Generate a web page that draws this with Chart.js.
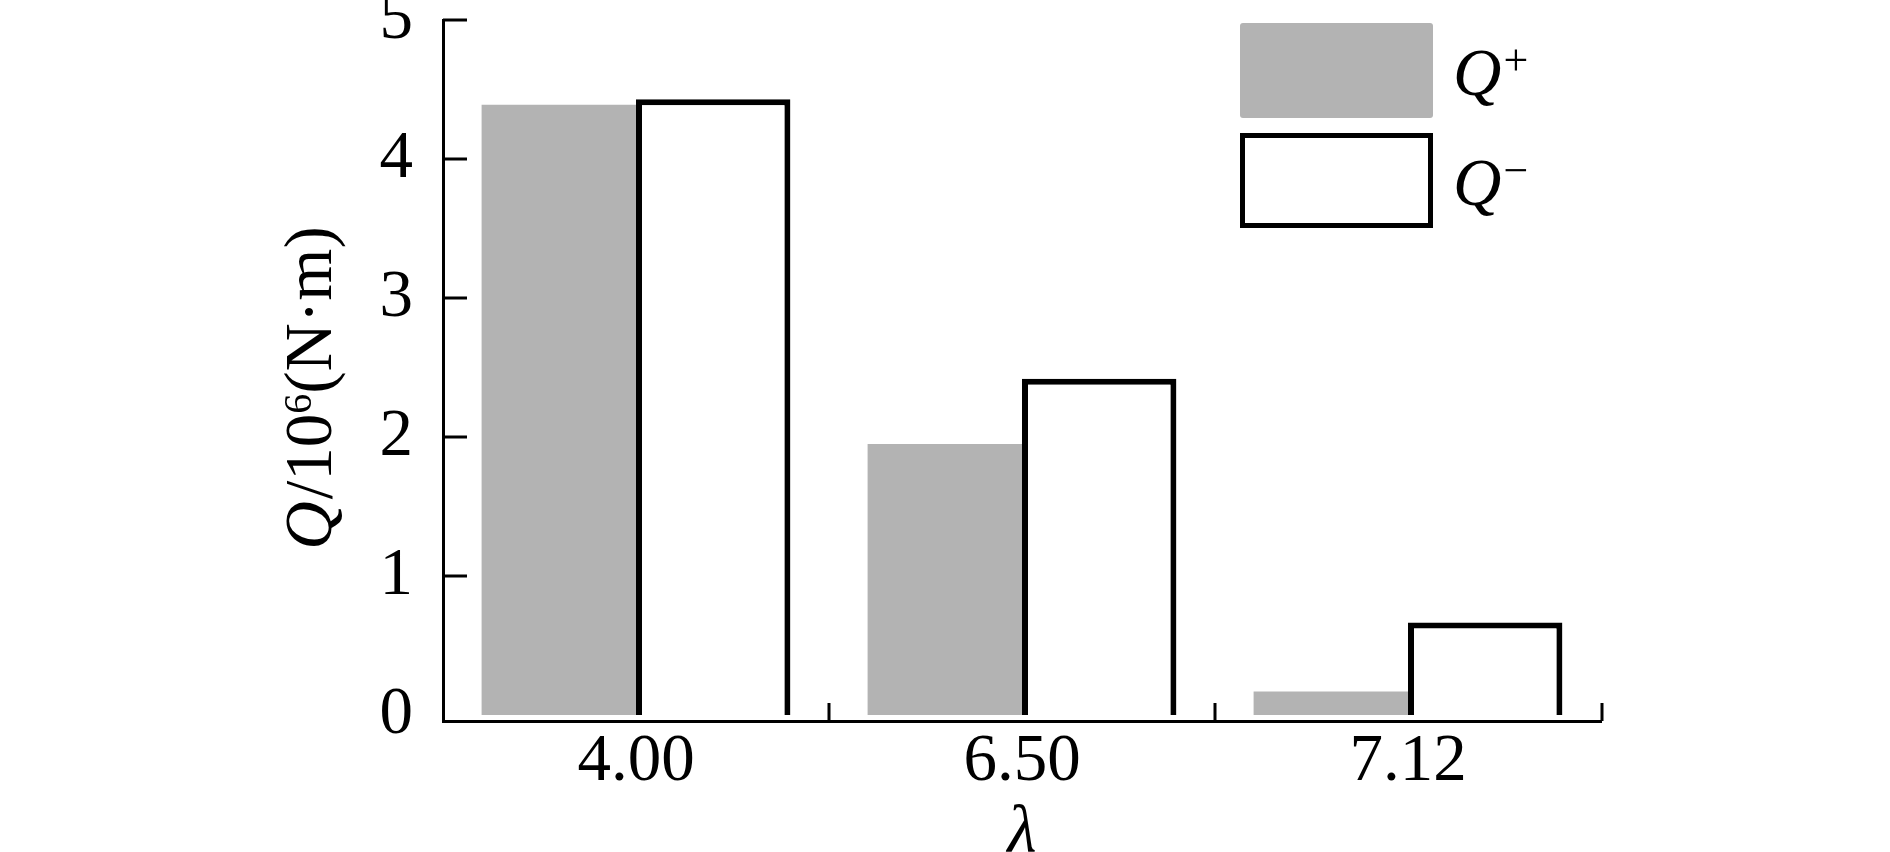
<!DOCTYPE html>
<html>
<head>
<meta charset="utf-8">
<script src="https://cdn.jsdelivr.net/npm/chart.js@4.4.1/dist/chart.umd.min.js"></script>
<style>
  html, body { margin: 0; padding: 0; background: #fff; }
  #wrap { width: 1890px; height: 852px; }
</style>
</head>
<body>
<div id="wrap"><canvas id="myChart" width="1890" height="852"></canvas></div>
<script>
const categories = ['4.00', '6.50', '7.12'];
const qPlus = [4.39, 1.95, 0.17];
const qMinus = [4.43, 2.42, 0.665];
const yTicks = [0, 1, 2, 3, 4, 5];
const seriesSymbols = ['Q', 'Q'];
const seriesSigns = ['+', '−'];
const yTitle = [
  { text: 'Q', italic: true },
  { text: '/10' },
  { text: '6', sup: true },
  { text: '(N·m)' }
];
const xTitle = 'λ';

const FONT = "'Liberation Serif', 'Times New Roman', serif";
const FS = 67;
const GREY = '#b3b3b3';

function drawRich(ctx, parts, x, y, size, supScale) {
  let cx = x;
  parts.forEach(p => {
    const fs = p.sup ? Math.round(size * supScale) : size;
    ctx.font = (p.italic ? 'italic ' : '') + fs + 'px ' + FONT;
    ctx.fillText(p.text, cx, p.sup ? y - size * 0.3 : y);
    cx += ctx.measureText(p.text).width + (p.italic ? 2 : 0);
  });
  return cx - x;
}

function richWidth(ctx, parts, size, supScale) {
  let w = 0;
  parts.forEach(p => {
    const fs = p.sup ? Math.round(size * supScale) : size;
    ctx.font = (p.italic ? 'italic ' : '') + fs + 'px ' + FONT;
    w += ctx.measureText(p.text).width + (p.italic ? 2 : 0);
  });
  return w;
}

// inward tick marks, axis titles and the legend
const decor = {
  id: 'decor',
  afterDraw(chart) {
    const { ctx, chartArea: a, scales: { x, y } } = chart;
    ctx.save();
    ctx.strokeStyle = '#000';
    ctx.lineWidth = 3;
    ctx.beginPath();
    yTicks.filter(v => v > 0).forEach(v => {
      const py = y.getPixelForValue(v);
      ctx.moveTo(a.left, py);
      ctx.lineTo(a.left + 24, py);
    });
    categories.forEach((c, i) => {
      const px = i < categories.length - 1
        ? (x.getPixelForValue(i) + x.getPixelForValue(i + 1)) / 2
        : a.right + 1;
      ctx.moveTo(px, a.bottom);
      ctx.lineTo(px, a.bottom - 18);
    });
    ctx.stroke();

    ctx.fillStyle = '#000';
    ctx.textBaseline = 'alphabetic';
    ctx.textAlign = 'left';

    // y title, rotated
    const w = richWidth(ctx, yTitle, FS, 0.6);
    ctx.save();
    ctx.translate(a.left - 112, 388 + w / 2);
    ctx.rotate(-Math.PI / 2);
    drawRich(ctx, yTitle, 0, 0, FS, 0.6);
    ctx.restore();

    // x title
    ctx.font = 'italic ' + FS + 'px ' + FONT;
    ctx.textAlign = 'center';
    ctx.fillText(xTitle, (a.left + a.right) / 2, 852);
    ctx.textAlign = 'left';

    // legend
    chart.data.datasets.forEach((ds, i) => {
      const bx = a.right - 361, by = 23 + i * 110, bw = 193, bh = 95;
      if (ds.borderWidth) {
        ctx.fillStyle = ds.backgroundColor;
        ctx.fillRect(bx, by, bw, bh);
        ctx.strokeStyle = ds.borderColor;
        ctx.lineWidth = 5;
        ctx.strokeRect(bx + 2.5, by + 2.5, bw - 5, bh - 5);
      } else {
        ctx.fillStyle = ds.backgroundColor;
        ctx.beginPath();
        ctx.roundRect(bx, by, bw, bh, 3);
        ctx.fill();
      }
      ctx.fillStyle = '#000';
      drawRich(ctx, [
        { text: seriesSymbols[i], italic: true },
        { text: seriesSigns[i], sup: true }
      ], bx + 213, by + 72, FS, 0.66);
    });
    ctx.restore();
  }
};

const config = {
  type: 'bar',
  data: {
    labels: categories,
    datasets: [{
      label: seriesSymbols[0] + seriesSigns[0],
      data: qPlus,
      backgroundColor: GREY,
      borderWidth: 0,
      categoryPercentage: 0.8,
      barPercentage: 1.0
    }, {
      label: seriesSymbols[1] + seriesSigns[1],
      data: qMinus,
      backgroundColor: '#ffffff',
      borderColor: '#000000',
      borderWidth: 6,
      borderSkipped: 'bottom',
      categoryPercentage: 0.8,
      barPercentage: 1.0
    }]
  },
  options: {
    responsive: false,
    animation: false,
    layout: { padding: { left: 0, right: 289, top: 20, bottom: 0 } },
    plugins: {
      legend: { display: false },
      tooltip: { enabled: false }
    },
    scales: {
      x: {
        grid: { display: false, drawTicks: false },
        border: { display: true, color: '#000', width: 3 },
        ticks: { color: '#000', font: { family: FONT, size: FS }, padding: 1 },
        afterFit: s => { s.height = 131; s.paddingLeft = 0; s.paddingRight = 0; }
      },
      y: {
        min: -0.043,
        max: 5,
        afterBuildTicks: s => { s.ticks = yTicks.map(v => ({ value: v })); },
        grid: { display: false, drawTicks: false },
        border: { display: true, color: '#000', width: 3 },
        ticks: { color: '#000', font: { family: FONT, size: FS }, padding: 30 },
        afterFit: s => { s.width = 443; s.paddingTop = 0; s.paddingBottom = 0; }
      }
    }
  },
  plugins: [decor]
};

const myChart = new Chart(document.getElementById('myChart').getContext('2d'), config);
</script>
</body>
</html>
